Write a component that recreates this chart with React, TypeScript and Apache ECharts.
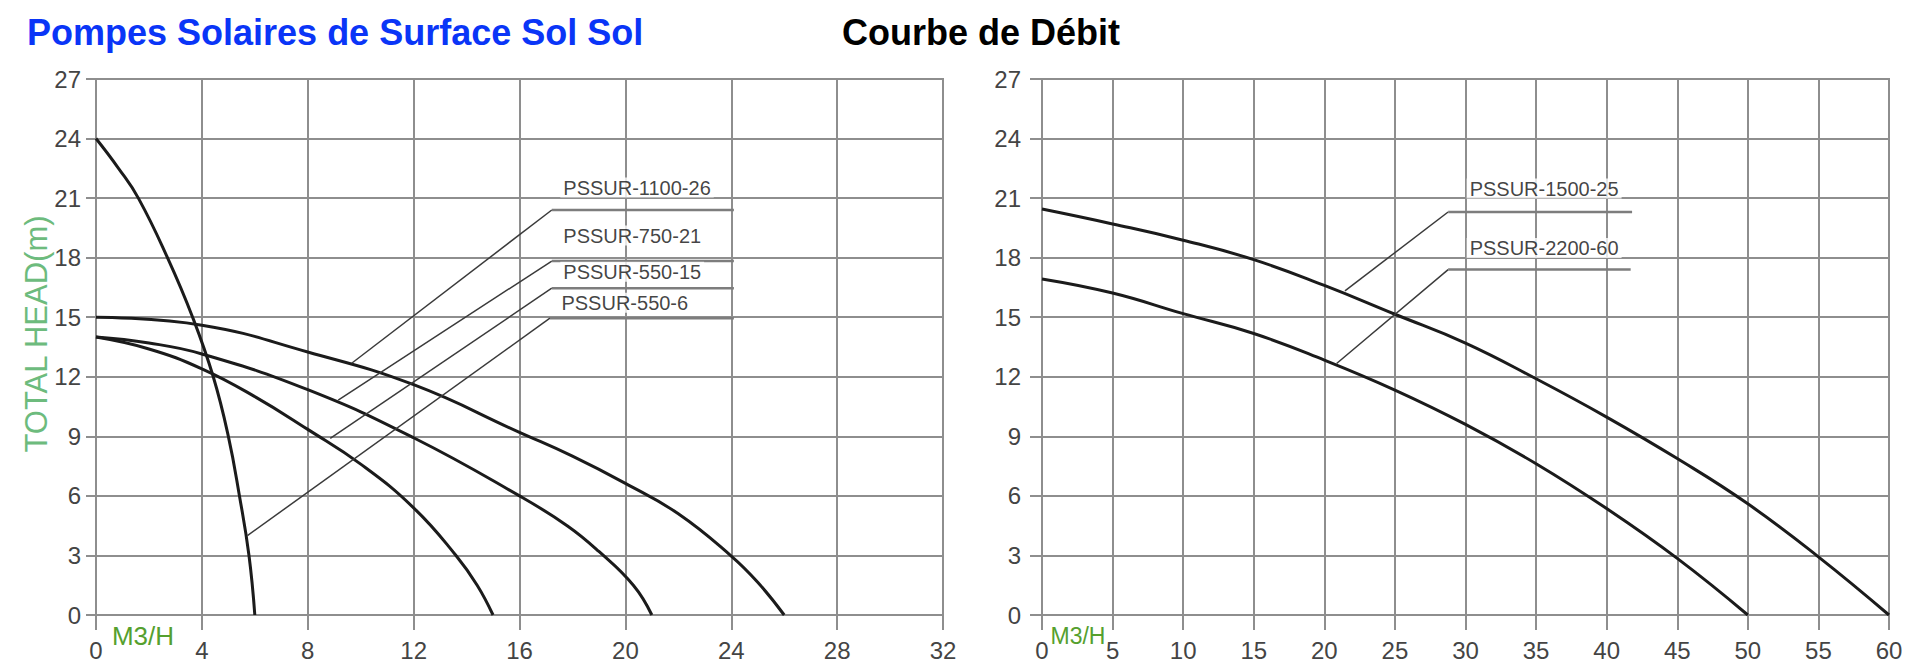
import { useEffect, useRef } from "react";
import * as echarts from "echarts";

const FONT = "'Liberation Sans', Arial, Helvetica, sans-serif";
const GRID_COLOR = "#8e8e8e";
const CURVE_COLOR = "#1b1b1b";

const TITLE = "Pompes Solaires de Surface Sol Sol";
const SUBTITLE = "Courbe de Débit";
const Y_NAME = "TOTAL HEAD(m)";
const X_NAME = "M3/H";

// axis ranges
const LEFT_X_MAX = 32;
const LEFT_X_STEP = 4;
const RIGHT_X_MAX = 60;
const RIGHT_X_STEP = 5;
const Y_MAX = 27;
const Y_STEP = 3;

// left chart curves [debit, hauteur]
const PSSUR_550_6 = [[0, 24], [0.85, 22.5], [1.6, 21], [2.7, 18], [3.65, 15], [4.43, 12], [5.0, 9], [5.42, 6], [5.78, 3], [6, 0]];
const PSSUR_550_15 = [[0, 14], [2, 13.4], [4, 12.4], [6, 11.0], [8, 9.35], [10, 7.6], [12, 5.4], [13.6, 3.0], [14.4, 1.5], [15, 0]];
const PSSUR_750_21 = [[0, 14], [2, 13.7], [4, 13.15], [8, 11.35], [12, 8.93], [16, 6.0], [17.8, 4.5], [19, 3.2], [20.3, 1.5], [21, 0]];
const PSSUR_1100_26 = [[0, 15], [4, 14.6], [8, 13.25], [12, 11.6], [16, 9.2], [18, 8.0], [20, 6.63], [22, 5.1], [24, 2.97], [25, 1.65], [26, 0]];

// right chart curves
const PSSUR_1500_25 = [[0, 20.45], [5, 19.7], [10, 18.88], [15, 17.9], [20, 16.6], [25, 15.15], [30, 13.7], [35, 11.9], [40, 9.97], [45, 7.88], [50, 5.6], [55, 2.93], [60, 0]];
const PSSUR_2200_60 = [[0, 16.93], [5, 16.22], [10, 15.18], [15, 14.18], [20, 12.84], [25, 11.33], [30, 9.6], [35, 7.62], [40, 5.36], [45, 2.85], [50, 0]];

// leader lines: point on curve -> elbow -> end of underline
const LEADER_1100_26 = [[9.66, 12.68], [17.22, 20.4], [24.1, 20.4]];
const LEADER_750_21 = [[9.15, 10.83], [17.22, 17.83], [24.1, 17.83]];
const LEADER_550_15 = [[8.85, 8.9], [17.22, 16.46], [24.1, 16.46]];
const LEADER_550_6 = [[5.72, 4.0], [17.15, 14.95], [24.1, 14.95]];
const LEADER_1500_25 = [[21.46, 16.33], [28.77, 20.3], [41.8, 20.3]];
const LEADER_2200_60 = [[20.87, 12.67], [28.77, 17.4], [41.7, 17.4]];

const LEFT_CURVES = [
  { name: "PSSUR-550-6", data: PSSUR_550_6, leader: LEADER_550_6 },
  { name: "PSSUR-550-15", data: PSSUR_550_15, leader: LEADER_550_15 },
  { name: "PSSUR-750-21", data: PSSUR_750_21, leader: LEADER_750_21 },
  { name: "PSSUR-1100-26", data: PSSUR_1100_26, leader: LEADER_1100_26 },
];
const RIGHT_CURVES = [
  { name: "PSSUR-1500-25", data: PSSUR_1500_25, leader: LEADER_1500_25 },
  { name: "PSSUR-2200-60", data: PSSUR_2200_60, leader: LEADER_2200_60 },
];

// how far each label text sits above its underline, in px
const LABEL_RISE: Record<string, number> = {
  "PSSUR-550-6": 15,
  "PSSUR-550-15": 16,
  "PSSUR-750-21": 25,
  "PSSUR-1100-26": 22,
  "PSSUR-1500-25": 23,
  "PSSUR-2200-60": 21,
};

function buildSeries(curves: typeof LEFT_CURVES, index: number, labelDx: number) {
  return curves.flatMap((curve) => [
    {
      name: curve.name,
      type: "line",
      xAxisIndex: index,
      yAxisIndex: index,
      data: curve.data,
      smooth: 0.45,
      symbol: "none",
      silent: true,
      z: 3,
      lineStyle: { color: CURVE_COLOR, width: 3 },
    },
    {
      type: "line",
      xAxisIndex: index,
      yAxisIndex: index,
      data: curve.leader.slice(0, 2),
      symbol: "none",
      silent: true,
      z: 4,
      lineStyle: { color: "#3a3a3a", width: 1.5 },
    },
    {
      type: "line",
      xAxisIndex: index,
      yAxisIndex: index,
      data: curve.leader.slice(1, 3),
      symbol: "none",
      silent: true,
      z: 4,
      lineStyle: { color: "#7d7d7d", width: 2.5 },
    },
    {
      type: "scatter",
      xAxisIndex: index,
      yAxisIndex: index,
      data: [{ name: curve.name, value: curve.leader[1] }],
      symbolSize: 1,
      silent: true,
      z: 6,
      itemStyle: { color: "rgba(0,0,0,0)" },
      label: {
        show: true,
        formatter: "{b}",
        position: [labelDx, -LABEL_RISE[curve.name]],
        align: "left",
        verticalAlign: "middle",
        fontFamily: FONT,
        fontSize: 20,
        lineHeight: 20,
        color: "#111",
        backgroundColor: "#fff",
        padding: [0, 3],
      },
    },
  ]);
}

function valueAxis(max: number, step: number, gridIndex: number, extra: Record<string, unknown>) {
  return {
    type: "value",
    gridIndex,
    min: 0,
    max,
    interval: step,
    axisLine: { show: true, lineStyle: { color: GRID_COLOR, width: 2 } },
    splitLine: { show: true, lineStyle: { color: GRID_COLOR, width: 2 } },
    ...extra,
  };
}

export default function App() {
  const ref = useRef<HTMLDivElement | null>(null);

  useEffect(() => {
    if (!ref.current) return;
    const chart = echarts.init(ref.current, undefined, { renderer: "svg" });
    const tickLabel = { fontFamily: FONT, fontSize: 24, color: "#444" };
    chart.setOption({
      animation: false,
      backgroundColor: "#fff",
      title: [
        { text: TITLE, left: 27, top: 14, padding: 0, textStyle: { fontFamily: FONT, fontSize: 36, fontWeight: "bold", color: "#0a35f7" } },
        { text: SUBTITLE, left: 842, top: 14, padding: 0, textStyle: { fontFamily: FONT, fontSize: 36, fontWeight: "bold", color: "#000" } },
      ],
      grid: [
        { left: 96, top: 79, width: 847, height: 536, show: true, borderColor: GRID_COLOR, borderWidth: 2, backgroundColor: "transparent" },
        { left: 1042, top: 79, width: 847, height: 536, show: true, borderColor: GRID_COLOR, borderWidth: 2, backgroundColor: "transparent" },
      ],
      xAxis: [
        valueAxis(LEFT_X_MAX, LEFT_X_STEP, 0, {
          axisTick: { show: true, length: 15, lineStyle: { color: GRID_COLOR, width: 2 } },
          axisLabel: { ...tickLabel, margin: 23 },
        }),
        valueAxis(RIGHT_X_MAX, RIGHT_X_STEP, 1, {
          axisTick: { show: true, length: 15, lineStyle: { color: GRID_COLOR, width: 2 } },
          axisLabel: { ...tickLabel, margin: 23 },
        }),
      ],
      yAxis: [
        valueAxis(Y_MAX, Y_STEP, 0, {
          axisTick: { show: true, length: 10, lineStyle: { color: GRID_COLOR, width: 2 } },
          axisLabel: { ...tickLabel, margin: 15 },
        }),
        valueAxis(Y_MAX, Y_STEP, 1, {
          axisTick: { show: true, length: 12, lineStyle: { color: GRID_COLOR, width: 2 } },
          axisLabel: { ...tickLabel, margin: 21 },
        }),
      ],
      graphic: [
        {
          type: "text",
          x: 36,
          y: 334,
          rotation: Math.PI / 2,
          silent: true,
          style: { text: Y_NAME, fontFamily: FONT, fontSize: 31, fill: "#6dbb7d", align: "center", verticalAlign: "middle" },
        },
        {
          type: "text",
          x: 143,
          y: 636,
          silent: true,
          style: { text: X_NAME, fontFamily: FONT, fontSize: 26, fill: "#55a02e", align: "center", verticalAlign: "middle" },
        },
        {
          type: "text",
          x: 1078,
          y: 636,
          silent: true,
          style: { text: X_NAME, fontFamily: FONT, fontSize: 23, fill: "#55a02e", align: "center", verticalAlign: "middle" },
        },
      ],
      series: [...buildSeries(LEFT_CURVES, 0, 9), ...buildSeries(RIGHT_CURVES, 1, 19)],
    });
    return () => chart.dispose();
  }, []);

  return <div ref={ref} style={{ position: "fixed", left: 0, top: 0, width: 1920, height: 671, background: "#fff" }} />;
}
